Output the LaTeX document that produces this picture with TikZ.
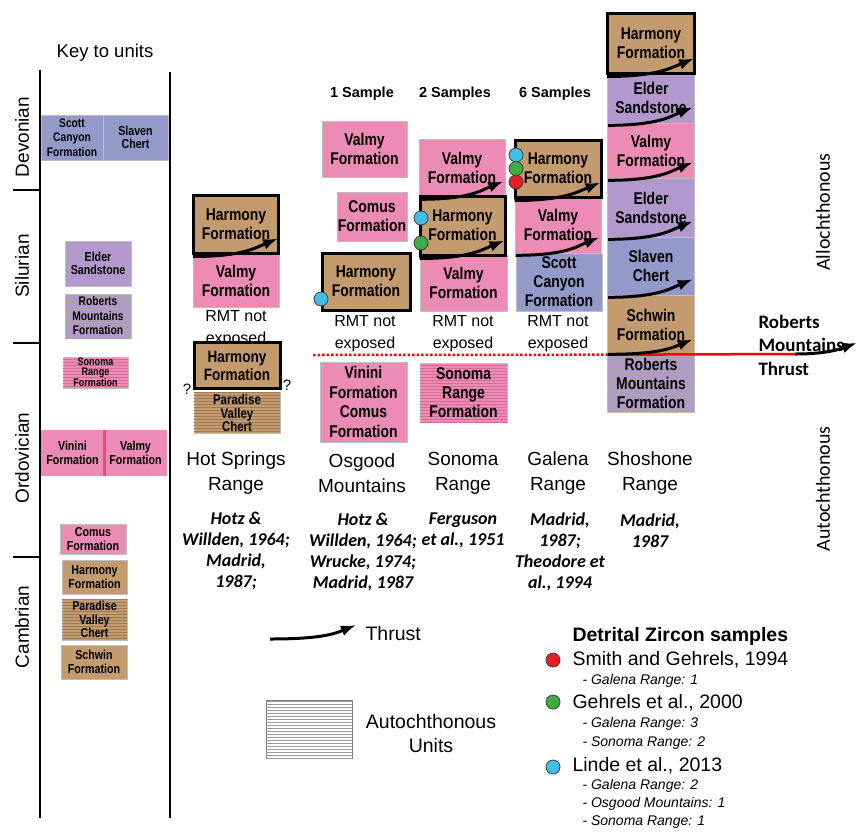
\documentclass[tikz,border=0pt]{standalone}
\usepackage{fontspec}
\setmainfont{Liberation Sans}
\newfontfamily\unitfont[FakeStretch=0.82]{Liberation Sans}
\newfontfamily\calfont{Carlito}
\usetikzlibrary{arrows.meta,patterns}

\definecolor{harmbrown}{RGB}{196,155,110}
\definecolor{harmdark}{RGB}{160,122,84}
\definecolor{valpink}{RGB}{236,140,180}
\definecolor{valline}{RGB}{214,108,150}
\definecolor{valdark}{RGB}{222,80,130}
\definecolor{scottblue}{RGB}{147,153,201}
\definecolor{elderpurple}{RGB}{178,152,204}
\definecolor{zred}{RGB}{232,30,40}
\definecolor{zgreen}{RGB}{62,172,62}
\definecolor{zblue}{RGB}{64,190,232}

\tikzset{
  unitbox/.style={draw=gray!50, line width=0.6pt, inner sep=0pt, align=center,
    minimum width=86, font=\unitfont\bfseries\fontsize{17}{19}\selectfont},
  keybox/.style={unitbox, font=\unitfont\bfseries\fontsize{13}{13.5}\selectfont},
  harmbox/.style={draw=black, line width=3pt},
  hatched/.style={postaction={pattern=horizontal lines, pattern color=#1}},
  thrust/.style={line width=3pt, -{Latex[length=15pt,width=11pt]}},
  zdot/.style={circle, draw=black!75, line width=0.8pt, minimum size=14, inner sep=0pt},
  rmtnote/.style={align=center, font=\fontsize{16}{22}\selectfont},
  rangelabel/.style={align=center, font=\fontsize{19}{25}\selectfont},
  citelabel/.style={align=center, font=\calfont\bfseries\itshape\fontsize{18}{21}\selectfont},
  headlabel/.style={font=\bfseries\fontsize{14.5}{17}\selectfont},
  period/.style={rotate=90, font=\fontsize{19}{21}\selectfont},
  legendtxt/.style={anchor=west, font=\fontsize{19.5}{22}\selectfont},
  legendsub/.style={anchor=west, font=\itshape\fontsize{14}{16}\selectfont},
}

\begin{document}
\begin{tikzpicture}[x=1pt,y=-1pt]
\useasboundingbox (0,0) rectangle (868,831);

\node[font=\fontsize{18.5}{20}\selectfont] (keyTitle) at (105,53) {Key to units};
\draw[line width=2pt] (40,70) -- (40,818);
\draw[line width=2pt] (170,72) -- (170,818);
\foreach \y in {190,343,557} \draw[line width=2pt] (13,\y) -- (40,\y);
\node[period] (devonian) at (22,137) {Devonian};
\node[period] (silurian) at (22,266) {Silurian};
\node[period] (ordovician) at (22,458) {Ordovician};
\node[period] (cambrian) at (22,627) {Cambrian};

\node[keybox, fill=scottblue, minimum width=62, minimum height=45, font=\unitfont\bfseries\fontsize{12.5}{14.5}\selectfont] (kScott) at (72,137.5) {Scott\\Canyon\\Formation};
\node[keybox, fill=scottblue, minimum width=65, minimum height=45] (kSlaven) at (135.5,137.5) {Slaven\\Chert};
\node[keybox, fill=elderpurple, minimum width=66, minimum height=45] (kElder) at (98,263.5) {Elder\\Sandstone};
\node[keybox, fill=elderpurple, hatched=gray!70, minimum width=66, minimum height=44, font=\unitfont\bfseries\fontsize{12.5}{14.5}\selectfont] (kRMF) at (98,316) {Roberts\\Mountains\\Formation};
\node[keybox, fill=valpink, hatched=valline, minimum width=65, minimum height=31, font=\unitfont\bfseries\fontsize{11}{10}\selectfont] (kSonoma) at (95.5,372.5) {Sonoma\\Range\\Formation};
\node[keybox, fill=valpink, draw=none, minimum width=63, minimum height=46] (kVinini) at (72.5,453) {Vinini\\Formation};
\node[keybox, fill=valpink, draw=none, minimum width=63, minimum height=46] (kValmy) at (135.5,453) {Valmy\\Formation};
\draw[line width=2.5pt, valdark] (kVinini.north east) -- (kVinini.south east);
\node[keybox, fill=valpink, minimum width=66, minimum height=30] (kComus) at (93,539) {Comus\\Formation};
\node[keybox, fill=harmbrown, minimum width=65, minimum height=34] (kHarmony) at (94.5,577) {Harmony\\Formation};
\node[keybox, fill=harmbrown, hatched=harmdark, minimum width=65, minimum height=41] (kPVC) at (94.5,619.5) {Paradise\\Valley\\Chert};
\node[keybox, fill=harmbrown, minimum width=66, minimum height=34] (kSchwin) at (94,662) {Schwin\\Formation};

\node[unitbox, fill=valpink, minimum width=86, minimum height=53] (hsValmy) at (236,280.5) {Valmy\\Formation};
\node[unitbox, fill=harmbrown, harmbox, minimum width=85, minimum height=58] (hsHarm) at (236,224) {Harmony\\Formation};
\node[rmtnote] (hsRMT) at (236,329) {RMT not\\exposed};
\node[unitbox, fill=harmbrown, hatched=harmdark, minimum width=86, minimum height=41, font=\unitfont\bfseries\fontsize{14}{13.5}\selectfont] (hsPVC) at (237,413) {Paradise\\Valley\\Chert};
\node[unitbox, fill=harmbrown, harmbox, minimum width=86, minimum height=46, font=\unitfont\bfseries\fontsize{16.5}{18}\selectfont] (hsHarmLow) at (237,365.5) {Harmony\\Formation};
\node[font=\fontsize{15}{17}\selectfont] (hsQa) at (187,389) {?};
\node[font=\fontsize{15}{17}\selectfont] (hsQb) at (287,385) {?};
\node[rangelabel] (hsName) at (236,473.5) {Hot Springs\\Range};
\node[citelabel] (hsCite) at (236,551.5) {Hotz \&\\Willden, 1964;\\Madrid,\\1987;};

\node[headlabel] (osHead) at (362,94) {1 Sample};
\node[unitbox, fill=valpink, minimum width=85, minimum height=56] (osValmy) at (364.5,149) {Valmy\\Formation};
\node[unitbox, fill=valpink, minimum width=70, minimum height=49] (osComus) at (372,216.5) {Comus\\Formation};
\node[unitbox, fill=harmbrown, harmbox, minimum width=88, minimum height=57] (osHarm) at (366,281.5) {Harmony\\Formation};
\node[rmtnote] (osRMT) at (365,334) {RMT not\\exposed};
\node[unitbox, fill=valpink, minimum width=87, minimum height=80, font=\unitfont\bfseries\fontsize{17}{19.5}\selectfont] (osVinini) at (363.5,402) {Vinini\\Formation\\Comus\\Formation};
\node[rangelabel] (osName) at (362,473.5) {Osgood\\Mountains};
\node[citelabel] (osCite) at (363,552) {Hotz \&\\Willden, 1964;\\Wrucke, 1974;\\Madrid, 1987};

\node[headlabel] (soHead) at (455,94) {2 Samples};
\node[unitbox, fill=valpink, minimum width=86, minimum height=58] (soValmyTop) at (462,168) {Valmy\\Formation};
\node[unitbox, fill=valpink, minimum width=87, minimum height=56] (soValmy) at (463.5,283) {Valmy\\Formation};
\node[unitbox, fill=harmbrown, harmbox, minimum width=85, minimum height=59] (soHarm) at (462.5,225.5) {Harmony\\Formation};
\node[rmtnote] (soRMT) at (463,334) {RMT not\\exposed};
\node[unitbox, fill=valpink, hatched=valline, minimum width=87, minimum height=59] (soSonoma) at (463.5,392.5) {Sonoma\\Range\\Formation};
\node[rangelabel] (soName) at (463,473.5) {Sonoma\\Range};
\node[citelabel] (soCite) at (463,530.5) {Ferguson\\et al., 1951};

\node[headlabel] (gaHead) at (555,94) {6 Samples};
\node[unitbox, fill=valpink, minimum width=86, minimum height=56] (gaValmy) at (558,225) {Valmy\\Formation};
\node[unitbox, fill=scottblue, minimum width=86, minimum height=58] (gaScott) at (559,282) {Scott\\Canyon\\Formation};
\node[unitbox, fill=harmbrown, harmbox, minimum width=86, minimum height=57] (gaHarm) at (558,168.5) {Harmony\\Formation};
\node[rmtnote] (gaRMT) at (558,334) {RMT not\\exposed};
\node[rangelabel] (gaName) at (558,473.5) {Galena\\Range};
\node[citelabel] (gaCite) at (560,551.5) {Madrid,\\1987;\\Theodore et\\al., 1994};

\node[unitbox, fill=elderpurple, minimum width=87, minimum height=50] (shElderA) at (651,98) {Elder\\Sandstone};
\node[unitbox, fill=valpink, minimum width=87, minimum height=55] (shValmy) at (651,150.5) {Valmy\\Formation};
\node[unitbox, fill=elderpurple, minimum width=87, minimum height=59] (shElderB) at (651,207.5) {Elder\\Sandstone};
\node[unitbox, fill=scottblue, minimum width=87, minimum height=58] (shSlaven) at (651,266) {Slaven\\Chert};
\node[unitbox, fill=harmbrown, minimum width=87, minimum height=60] (shSchwin) at (651,325) {Schwin\\Formation};
\node[unitbox, fill=elderpurple, hatched=gray!70, minimum width=87, minimum height=57] (shRMF) at (651,383.5) {Roberts\\Mountains\\Formation};
\node[unitbox, fill=harmbrown, harmbox, minimum width=87, minimum height=60] (shHarm) at (651,43) {Harmony\\Formation};
\node[rangelabel] (shName) at (650,473.5) {Shoshone\\Range};
\node[citelabel] (shCite) at (650,530.5) {Madrid,\\1987};

\foreach \b in {hsHarm,soValmyTop,soHarm,gaHarm,gaValmy,shHarm,shElderA,shValmy,shElderB,shSlaven}
  \draw[thrust] ([shift={(1,2)}]\b.south west) .. controls +(50,0) and +(-22,9) .. ([shift={(-2,-16)}]\b.south east);

\coordinate (rmtW) at (313,355);
\coordinate (rmtE) at (795,354);
\coordinate (rmtTip) at (857,343);
\draw[red, line width=2.5pt, dash pattern=on 2.5pt off 2pt] (rmtW) -- (shRMF.north west);
\draw[red, line width=2.5pt] (shRMF.north west) -- (rmtE);
\draw[thrust] ([shift={(1,-1)}]shSchwin.south west) .. controls +(50,0) and +(-22,9) .. ([shift={(-2,-16)}]shSchwin.south east);
\draw[thrust] (rmtE) .. controls +(35,0) and +(-15,5) .. (rmtTip);
\node[anchor=west, align=left, font=\calfont\bfseries\fontsize{19}{23.5}\selectfont] (rmtLabel) at (755,345) {Roberts\\Mountains\\Thrust};
\node[rotate=90, font=\calfont\fontsize{20}{22}\selectfont] (allo) at (823,212) {Allochthonous};
\node[rotate=90, font=\calfont\fontsize{20}{22}\selectfont] (auto) at (823,489) {Autochthonous};

\node[zdot, fill=zblue] (osBlue) at (321,299) {};
\node[zdot, fill=zblue] (soBlue) at (421,218) {};
\node[zdot, fill=zgreen] (soGreen) at (421,243) {};
\node[zdot, fill=zblue] (gaBlue) at (516,155) {};
\node[zdot, fill=zgreen] (gaGreen) at (516,168.5) {};
\node[zdot, fill=zred] (gaRed) at (516,182) {};

\coordinate (lgT1) at (270,639);
\coordinate (lgT2) at (356,625);
\draw[thrust] (lgT1) .. controls +(50,0) and +(-22,9) .. (lgT2);
\node[legendtxt] (lgThrust) at (362,634) {Thrust};
\node[draw=gray, line width=0.8pt, fill=white, hatched=gray!80, minimum width=86, minimum height=58] (lgAuto) at (309,729) {};
\node[align=center, font=\fontsize{19.5}{24}\selectfont] (lgAutoTxt) at (431,734) {Autochthonous\\Units};

\node[legendtxt, font=\bfseries\fontsize{19.5}{22}\selectfont] (lgZircon) at (569,636) {Detrital Zircon samples};
\node[zdot, fill=zred] (lgRed) at (553,660) {};
\node[legendtxt] (lgSmith) at (569,660) {Smith and Gehrels, 1994};
\node[legendsub] (lgSmithA) at (579,681) {- Galena Range: 1};
\node[zdot, fill=zgreen] (lgGreen) at (553,702) {};
\node[legendtxt] (lgGehrels) at (569,703) {Gehrels et al., 2000};
\node[legendsub] (lgGehrelsA) at (579,724) {- Galena Range: 3};
\node[legendsub] (lgGehrelsB) at (579,743) {- Sonoma Range: 2};
\node[zdot, fill=zblue] (lgBlue) at (553,767) {};
\node[legendtxt] (lgLinde) at (569,766) {Linde et al., 2013};
\node[legendsub] (lgLindeA) at (579,786) {- Galena Range: 2};
\node[legendsub] (lgLindeB) at (579,804) {- Osgood Mountains: 1};
\node[legendsub] (lgLindeC) at (579,822) {- Sonoma Range: 1};
\end{tikzpicture}
\end{document}
